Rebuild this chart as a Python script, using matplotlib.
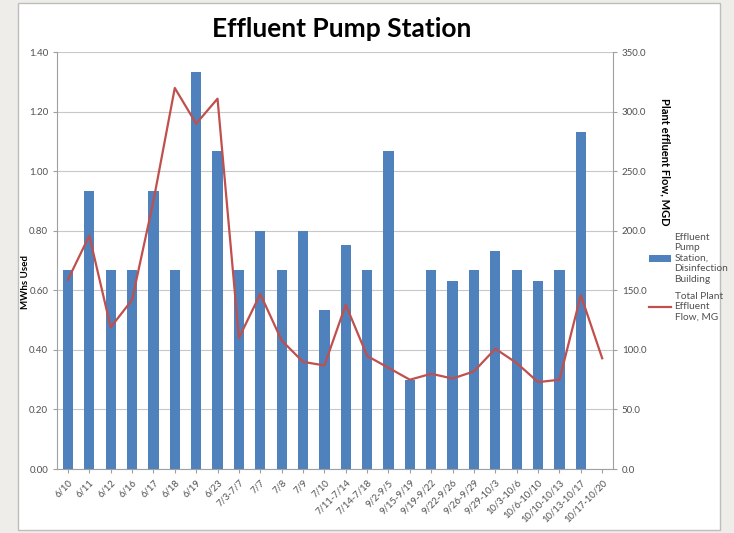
import matplotlib
matplotlib.use('Agg')
import matplotlib.pyplot as plt
from matplotlib.patches import Rectangle

plt.rcParams['font.family'] = ['Lato', 'DejaVu Sans']

# data
periods = ['6/10', '6/11', '6/12', '6/16', '6/17', '6/18', '6/19', '6/23',
           '7/3-7/7', '7/7', '7/8', '7/9', '7/10', '7/11-7/14', '7/14-7/18',
           '9/2-9/5', '9/15-9/19', '9/19-9/22', '9/22-9/26', '9/26-9/29',
           '9/29-10/3', '10/3-10/6', '10/6-10/10', '10/10-10/13',
           '10/13-10/17', '10/17-10/20']
mwh_used = [0.667, 0.933, 0.667, 0.667, 0.933, 0.667, 1.333, 1.067,
            0.667, 0.800, 0.667, 0.800, 0.533, 0.753, 0.667,
            1.067, 0.300, 0.667, 0.633, 0.667,
            0.733, 0.667, 0.633, 0.667, 1.133, 0.0]
plant_flow = [159, 196, 119, 142, 225, 320, 290, 311,
              110, 147, 108, 90, 87, 138, 95,
              85, 75, 80, 76, 82,
              101, 89, 73, 75, 146, 93]

left_ticks = [0.0, 0.2, 0.4, 0.6, 0.8, 1.0, 1.2, 1.4]
right_ticks = [0, 50, 100, 150, 200, 250, 300, 350]

bar_color = '#4F81BD'
line_color = '#C0504D'
tick_color = '#505050'

fig = plt.figure(figsize=(7.34, 5.33), dpi=100)
fig.patch.set_facecolor('#efede9')
# white panel behind the chart
fig.patches.append(Rectangle((18 / 734, 3 / 533), 702 / 734, 527 / 533,
                             transform=fig.transFigure, facecolor='white',
                             edgecolor='#bdbdbd', linewidth=1, zorder=-1))

ax = fig.add_axes([0.078, 0.12, 0.757, 0.782])
ax.set_facecolor('white')
x = list(range(len(periods)))
bars = ax.bar(x, mwh_used, width=0.48, color=bar_color, zorder=2,
              label='Effluent\nPump\nStation,\nDisinfection\nBuilding')
ax.set_ylim(0, 1.4)
ax.set_xlim(-0.5, len(periods) - 0.5)
ax.set_yticks(left_ticks)
ax.set_yticklabels(['%.2f' % v for v in left_ticks], fontsize=7, color=tick_color)
ax.yaxis.grid(True, color='#c8c8c8', linewidth=0.8, zorder=0)
ax.set_axisbelow(True)
ax.set_xticks(x)
ax.set_xticklabels(periods, rotation=45, ha='right', rotation_mode='anchor',
                   fontsize=6.8, color=tick_color)
ax.tick_params(axis='both', length=3, color='#a0a0a0')
for s in ['top', 'right']:
    ax.spines[s].set_visible(False)
for s in ['left', 'bottom']:
    ax.spines[s].set_color('#a0a0a0')

ax2 = ax.twinx()
line, = ax2.plot(x, plant_flow, color=line_color, linewidth=1.6, zorder=3,
                 label='Total Plant\nEffluent\nFlow, MG')
ax2.set_ylim(0, 350)
ax2.set_yticks(right_ticks)
ax2.set_yticklabels(['%.1f' % v for v in right_ticks], fontsize=7, color=tick_color)
ax2.tick_params(axis='y', length=3, color='#a0a0a0')
for s in ['top', 'left', 'bottom']:
    ax2.spines[s].set_visible(False)
ax2.spines['right'].set_color('#a0a0a0')

# axis titles placed like the original
fig.text(25 / 734, 1 - 282 / 533, 'MWhs Used', rotation=90, ha='center',
         va='center', fontsize=7, fontweight='bold')
fig.text(665 / 734, 1 - 162 / 533, 'Plant effluent Flow, MGD', rotation=-90,
         ha='center', va='center', fontsize=8, fontweight='bold')

fig.legend([bars, line], [bars.get_label(), line.get_label()],
           loc='upper left', bbox_to_anchor=(0.872, 0.58), frameon=False,
           fontsize=7.3, handlelength=2.2, handletextpad=0.3,
           labelspacing=0.8, labelcolor=tick_color)

fig.text(0.465, 0.945, 'Effluent Pump Station', ha='center', va='center',
         fontsize=19, fontweight='bold')

fig.savefig('out.png', dpi=100, facecolor=fig.get_facecolor())
